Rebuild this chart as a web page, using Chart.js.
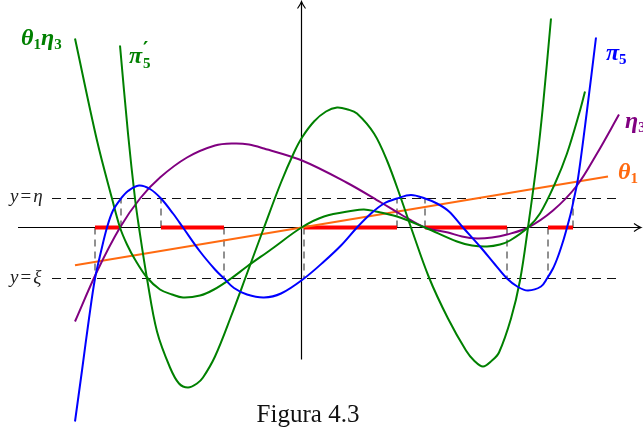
<!DOCTYPE html>
<html>
<head>
<meta charset="utf-8">
<script src="https://cdn.jsdelivr.net/npm/chart.js@4.4.1/dist/chart.umd.min.js"></script>
<style>
  html, body { margin: 0; padding: 0; background: #fff; }
  #wrap { width: 643px; height: 429px; }
</style>
</head>
<body>
<div id="wrap"><canvas id="fig"></canvas></div>
<script>
// Levels of the two dashed lines y = eta and y = xi
const eta = 0.58;
const xi = -1.02;

// pi_5, degree 5
const pi5 = [
  [-4.53, -3.88], [-4.39, -2.86], [-4.25, -1.82], [-4.13, -1.02], [-4.01, -0.48],
  [-3.89, 0], [-3.77, 0.34], [-3.61, 0.58], [-3.47, 0.73], [-3.25, 0.84],
  [-3.03, 0.77], [-2.81, 0.58], [-2.57, 0.28], [-2.37, 0], [-2.03, -0.48],
  [-1.73, -0.84], [-1.55, -1.02], [-1.35, -1.21], [-1.09, -1.34], [-0.75, -1.40],
  [-0.41, -1.32], [0.05, -1.02], [0.45, -0.68], [0.79, -0.36], [1.11, 0],
  [1.39, 0.28], [1.65, 0.48], [1.91, 0.58], [2.19, 0.65], [2.47, 0.58],
  [2.71, 0.48], [2.95, 0.32], [3.23, 0], [3.57, -0.38], [3.87, -0.74],
  [4.11, -1.02], [4.33, -1.19], [4.53, -1.26], [4.79, -1.18], [4.91, -1.02],
  [5.03, -0.82], [5.13, -0.58], [5.23, -0.28], [5.31, 0], [5.39, 0.30],
  [5.45, 0.58], [5.53, 0.98], [5.71, 2.34], [5.89, 3.80]
];

// derivative pi_5'
const pi5Prime = [
  [-3.63, 3.64], [-3.47, 1.88], [-3.33, 0.58], [-3.25, 0], [-3.09, -1.02],
  [-2.89, -2.08], [-2.63, -2.80], [-2.45, -3.12], [-2.27, -3.20], [-2.09, -3.12],
  [-1.97, -3.00], [-1.73, -2.58], [-1.41, -1.78], [-1.09, -0.92], [-0.75, 0],
  [-0.41, 0.90], [-0.15, 1.50], [0.01, 1.80], [0.25, 2.12], [0.49, 2.32],
  [0.71, 2.40], [0.93, 2.36], [1.11, 2.28], [1.45, 1.88], [1.71, 1.34],
  [1.99, 0.58], [2.19, 0], [2.55, -1.00], [2.93, -1.82], [3.29, -2.46],
  [3.45, -2.66], [3.63, -2.78], [3.81, -2.66], [3.95, -2.50], [4.19, -1.82],
  [4.37, -1.06], [4.53, 0], [4.71, 1.34], [4.83, 2.44], [4.99, 4.18]
];

// product theta_1 * eta_3
const theta1Eta3 = [
  [-4.53, 3.78], [-4.09, 1.74], [-3.79, 0.58], [-3.63, 0], [-3.49, -0.34],
  [-3.33, -0.64], [-3.09, -1.00], [-2.83, -1.24], [-2.59, -1.34], [-2.37, -1.40],
  [-2.03, -1.36], [-1.75, -1.24], [-1.41, -1.02], [-1.09, -0.78], [-0.61, -0.44],
  [0, 0], [0.45, 0.22], [1.05, 0.34], [1.25, 0.36], [1.45, 0.33],
  [1.91, 0.22], [2.47, 0], [3.11, -0.28], [3.41, -0.36], [3.71, -0.38],
  [3.97, -0.34], [4.17, -0.26], [4.53, 0], [4.77, 0.28], [5.07, 0.88],
  [5.31, 1.48], [5.57, 2.34], [5.67, 2.72]
];

// cubic eta_3
const eta3 = [
  [-4.53, -1.88], [-4.09, -0.88], [-3.63, 0], [-3.23, 0.58], [-2.83, 1.00],
  [-2.29, 1.40], [-1.73, 1.64], [-1.35, 1.68], [-1.05, 1.66], [-0.75, 1.58],
  [0.01, 1.34], [0.90, 0.90], [1.59, 0.50], [1.99, 0.26], [2.47, 0],
  [2.93, -0.10], [3.21, -0.18], [3.51, -0.22], [3.81, -0.20], [4.11, -0.14],
  [4.53, 0], [5.03, 0.34], [5.51, 0.84], [5.91, 1.48], [6.35, 2.26]
];

// straight line theta_1
const theta1 = [[-4.53, -0.755], [6.13, 1.02]];

// abscissas where pi_5 meets y = xi and y = eta
const crossXi = [-4.13, -1.55, 0.05, 4.11, 4.93];
const crossEta = [-3.61, -2.81, 1.91, 2.47, 5.43];

// extent of axes and dashed lines
const xAxisSpan = [-5.67, 6.77];
const yAxisSpan = [-2.64, 4.50];
const dashSpan = [-4.99, 6.35];

const pts = (arr) => arr.map(([x, y]) => ({ x: x, y: y }));

// red intervals on the x-axis: pair up sorted crossings
const cuts = crossXi.concat(crossEta).sort((a, b) => a - b);
const redIntervals = [];
for (let i = 0; i + 1 < cuts.length; i += 2) redIntervals.push([cuts[i], cuts[i + 1]]);

const curveStyle = {
  showLine: true,
  pointRadius: 0,
  borderWidth: 2,
  tension: 0.35,
  fill: false,
};

const datasets = [];

// curves (drawn on top)
datasets.push({ ...curveStyle, label: "pi5", data: pts(pi5), borderColor: "#0000ff", order: 1 });
datasets.push({ ...curveStyle, label: "pi5'", data: pts(pi5Prime), borderColor: "#008000", order: 2 });
datasets.push({ ...curveStyle, label: "theta1eta3", data: pts(theta1Eta3), borderColor: "#008000", order: 3 });
datasets.push({ ...curveStyle, label: "eta3", data: pts(eta3), borderColor: "#800080", order: 4 });
datasets.push({ ...curveStyle, tension: 0, label: "theta1", data: pts(theta1), borderColor: "#ff6a10", order: 5 });

// red pieces of the x-axis
redIntervals.forEach(([a, b]) => {
  datasets.push({
    showLine: true, pointRadius: 0, borderWidth: 4, borderColor: "#ff0000",
    borderCapStyle: "butt", data: [{ x: a, y: 0 }, { x: b, y: 0 }], order: 6,
  });
});

// vertical dashed drops
crossXi.forEach((x) => {
  datasets.push({
    showLine: true, pointRadius: 0, borderWidth: 1, borderColor: "#222",
    borderDash: [7, 5], data: [{ x: x, y: 0 }, { x: x, y: xi }], order: 7,
  });
});
crossEta.forEach((x) => {
  datasets.push({
    showLine: true, pointRadius: 0, borderWidth: 1, borderColor: "#222",
    borderDash: [7, 5], data: [{ x: x, y: 0 }, { x: x, y: eta }], order: 7,
  });
});

// horizontal dashed levels
[eta, xi].forEach((lv) => {
  datasets.push({
    showLine: true, pointRadius: 0, borderWidth: 1, borderColor: "#111",
    borderDash: [9, 6], data: [{ x: dashSpan[0], y: lv }, { x: dashSpan[1], y: lv }], order: 8,
  });
});

// axes
datasets.push({
  showLine: true, pointRadius: 0, borderWidth: 1.2, borderColor: "#000",
  data: [{ x: xAxisSpan[0], y: 0 }, { x: xAxisSpan[1], y: 0 }], order: 9,
});
datasets.push({
  showLine: true, pointRadius: 0, borderWidth: 1.2, borderColor: "#000",
  data: [{ x: 0, y: yAxisSpan[0] }, { x: 0, y: yAxisSpan[1] }], order: 9,
});

const MATH = "italic bold 24px 'Liberation Serif'";
const SUB = "bold 15px 'Liberation Serif'";
const IT = "italic 19px 'Liberation Serif'";
const UP = "19px 'Liberation Serif'";

const labels = [
  { x: -5.61, y: 3.65, color: "#008000", parts: [
    { t: "\u03b8", font: MATH }, { t: "1", font: SUB, dy: 4 },
    { t: "\u03b7", font: MATH }, { t: "3", font: SUB, dy: 4 } ] },
  { x: -3.45, y: 3.29, color: "#008000", parts: [
    { t: "\u03c0", font: MATH, gap: 1 }, { t: "\u2032", font: "bold 20px 'DejaVu Serif'", dy: -7, keep: true },
    { t: "5", font: SUB, dy: 5 } ] },
  { x: 6.09, y: 3.35, color: "#0000ff", parts: [
    { t: "\u03c0", font: MATH }, { t: "5", font: SUB, dy: 4 } ] },
  { x: 6.47, y: 1.99, color: "#800080", parts: [
    { t: "\u03b7", font: MATH }, { t: "3", font: SUB, dy: 4 } ] },
  { x: 6.33, y: 0.97, color: "#ff6a10", parts: [
    { t: "\u03b8", font: MATH }, { t: "1", font: SUB, dy: 4 } ] },
  { x: -5.83, y: 0.51, color: "#222", parts: [
    { t: "y", font: IT, gap: 2 }, { t: "=", font: UP, gap: 2 }, { t: "\u03b7", font: IT } ] },
  { x: -5.83, y: -1.11, color: "#222", parts: [
    { t: "y", font: IT, gap: 2 }, { t: "=", font: UP, gap: 2 }, { t: "\u03be", font: IT } ] },
];

const caption = { text: "Figura 4.3", x: 0.13, y: -3.88 };

function drawLabel(ctx, x, y, lab) {
  ctx.save();
  ctx.fillStyle = lab.color;
  ctx.textBaseline = "alphabetic";
  let cx = x;
  lab.parts.forEach((p) => {
    ctx.font = p.font;
    ctx.fillText(p.t, cx, y + (p.dy || 0));
    if (!p.keep) cx += ctx.measureText(p.t).width + (p.gap || 0);
  });
  ctx.restore();
}

const overlay = {
  id: "overlay",
  afterDatasetsDraw(chart) {
    const ctx = chart.ctx;
    const sx = chart.scales.x;
    const sy = chart.scales.y;
    const px = (v) => sx.getPixelForValue(v);
    const py = (v) => sy.getPixelForValue(v);

    // arrow tips on both axes
    ctx.save();
    ctx.strokeStyle = "#000";
    ctx.lineWidth = 1.1;
    const tx = px(xAxisSpan[1]) + 1, ty = py(0);
    ctx.beginPath();
    ctx.moveTo(tx - 7, ty - 4);
    ctx.quadraticCurveTo(tx - 3, ty - 1, tx, ty);
    ctx.quadraticCurveTo(tx - 3, ty + 1, tx - 7, ty + 4);
    ctx.stroke();
    const ux = px(0), uy = py(yAxisSpan[1]) - 1;
    ctx.beginPath();
    ctx.moveTo(ux - 4, uy + 7);
    ctx.quadraticCurveTo(ux - 1, uy + 3, ux, uy);
    ctx.quadraticCurveTo(ux + 1, uy + 3, ux + 4, uy + 7);
    ctx.stroke();
    ctx.restore();

    labels.forEach((lab) => drawLabel(ctx, px(lab.x), py(lab.y), lab));

    ctx.save();
    ctx.fillStyle = "#111";
    ctx.font = "25px 'Liberation Serif'";
    ctx.textAlign = "center";
    ctx.textBaseline = "alphabetic";
    ctx.fillText(caption.text, px(caption.x), py(caption.y));
    ctx.restore();
  },
};

new Chart(document.getElementById("fig"), {
  type: "scatter",
  data: { datasets: datasets },
  options: {
    responsive: true,
    maintainAspectRatio: false,
    animation: false,
    layout: { padding: 0 },
    plugins: {
      legend: { display: false },
      tooltip: { enabled: false },
    },
    scales: {
      x: { type: "linear", min: -6.03, max: 6.83, display: false },
      y: { type: "linear", min: -4.03, max: 4.55, display: false },
    },
  },
  plugins: [overlay],
});
</script>
</body>
</html>
